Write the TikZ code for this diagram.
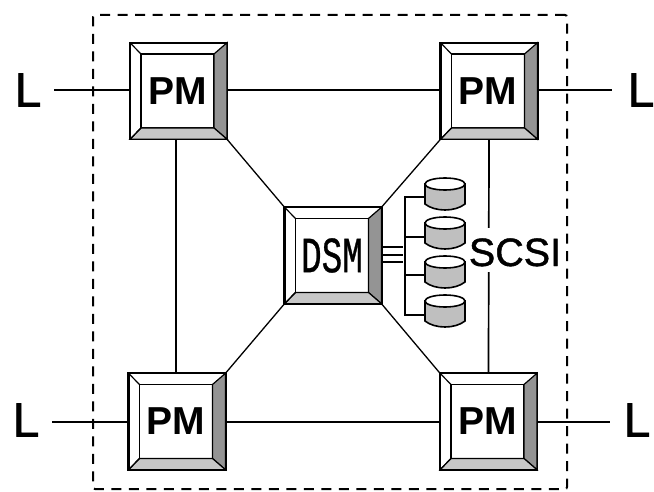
\documentclass[tikz,border=0pt]{standalone}
\usepackage{fontspec}
\setmainfont{Liberation Sans}
\newfontfamily\monofnt[FakeBold=0.8]{Liberation Mono}
\newfontfamily\heavyfnt[FakeBold=1.2]{Liberation Sans}

\tikzstyle{block} = [draw, rectangle, line width=2.2pt, fill=white, outer sep=0pt,
    minimum height=96.5, minimum width=97]
\tikzstyle{inblock} = [draw, rectangle, line width=1.8pt, outer sep=0pt, inner sep=0pt,
    minimum height=74, minimum width=73, font=\fontsize{39}{39}\selectfont\bfseries]
\tikzstyle{line} = [draw, line width=1.7pt]
\tikzstyle{disk} = [rectangle, minimum width=40, minimum height=32, inner sep=0pt, outer sep=0pt]
\tikzstyle{link} = [font=\fontsize{48}{48}\selectfont\heavyfnt, inner sep=0pt]

% box with bevelled edge, then its inner face
\newcommand{\bevelbox}[4]{
    \node [block] (#1) at (#2) {};
    \node [inblock, xshift=-1] (#1in) at (#2) {#3#4};
    \draw [line width=1.2pt, fill=black!42] (#1.north east) -- (#1.south east) -- (#1in.south east) -- (#1in.north east) -- cycle;
    \draw [line width=1.2pt, fill=black!22] (#1.south west) -- (#1.south east) -- (#1in.south east) -- (#1in.south west) -- cycle;
    \draw [line width=1.2pt] (#1.north west) -- (#1in.north west);
    \draw [line width=1.2pt] (#1.south west) -- (#1in.south west);
}
% disk drum, named by its outline
\newcommand{\diskdrum}[3]{
    \node [disk] (#1) at (#2,#3) {};
    \draw [line width=1.6pt, fill=black!25] (#2-20,#3-10) -- (#2-20,#3+10) .. controls (#2-10,#3+18) and (#2+10,#3+18) .. (#2+20,#3+10) -- (#2+20,#3-10) -- cycle;
    \draw [line width=1.6pt, fill=white] (#2,#3-10) ellipse [x radius=20, y radius=6];
}

\begin{document}
\begin{tikzpicture}[x=1pt, y=-1pt, >=latex]
    \useasboundingbox (0,0) rectangle (654,492);

    \bevelbox{pmA}{178.5,91}{}{PM}
    \bevelbox{pmB}{489,91}{}{PM}
    \bevelbox{pmC}{177,421.5}{}{PM}
    \bevelbox{pmD}{488.5,421.5}{}{PM}
    \bevelbox{dsm}{333,255.5}{\monofnt\mdseries}{\scalebox{0.88}[1.3]{DSM}}

    \diskdrum{diskA}{445}{194}
    \diskdrum{diskB}{445}{233}
    \diskdrum{diskC}{445}{272}
    \diskdrum{diskD}{445}{311}

    \coordinate (lA) at (54,90);
    \coordinate (lB) at (612,90);
    \coordinate (lC) at (52,422);
    \coordinate (lD) at (610,422);
    \node [link] (nameA) at (28,90) {L};
    \node [link] (nameB) at (641,90) {L};
    \node [link] (nameC) at (26,420) {L};
    \node [link] (nameD) at (637,420) {L};

    \node (frame) [draw, line width=2pt, rounded corners=2pt, dash pattern=on 10pt off 7.5pt,
        minimum width=474, minimum height=474] at (330,252) {};

    \draw [line] (lA) -- (pmA.west |- lA);
    \draw [line] (pmB.east |- lB) -- (lB);
    \draw [line] (lC) -- (pmC.west |- lC);
    \draw [line] (pmD.east |- lD) -- (lD);
    \draw [line] (pmA.east |- lA) -- (pmB.west |- lA);
    \draw [line] (pmC.east |- lC) -- (pmD.west |- lC);
    \draw [line] (pmA.south -| 176,0) -- (pmC.north -| 176,0);
    \draw [line] (pmB.south) -- (pmD.north);

    \draw [line width=1.3pt] (pmA.south east) -- (dsm.north west);
    \draw [line width=1.3pt] (pmB.south west) -- (dsm.north east);
    \draw [line width=1.3pt] (pmC.north east) -- (dsm.south west);
    \draw [line width=1.3pt] (pmD.north west) -- (dsm.south east);

    % three lines to the bus
    \coordinate (bus) at (403,255);
    \draw [line] (dsm.east |- 0,247) -- (bus |- 0,247);
    \draw [line] (dsm.east |- 0,255) -- (bus |- 0,255);
    \draw [line] (dsm.east |- 0,262) -- (bus |- 0,262);

    \coordinate (busA) at (405,197);
    \coordinate (busD) at (405,315);
    \draw [line] (diskA.west |- busA) -- (busA) -- (busD) -- (diskD.west |- busD);
    \draw [line] (busA |- 0,237) -- (diskB.west |- 0,237);
    \draw [line] (busA |- 0,275) -- (diskC.west |- 0,275);

    \node [fill=white, inner sep=0pt, text height=38, text depth=6, font=\fontsize{39.5}{39.5}\selectfont\heavyfnt] (scsi) at (515,250) {SCSI};
\end{tikzpicture}
\end{document}
